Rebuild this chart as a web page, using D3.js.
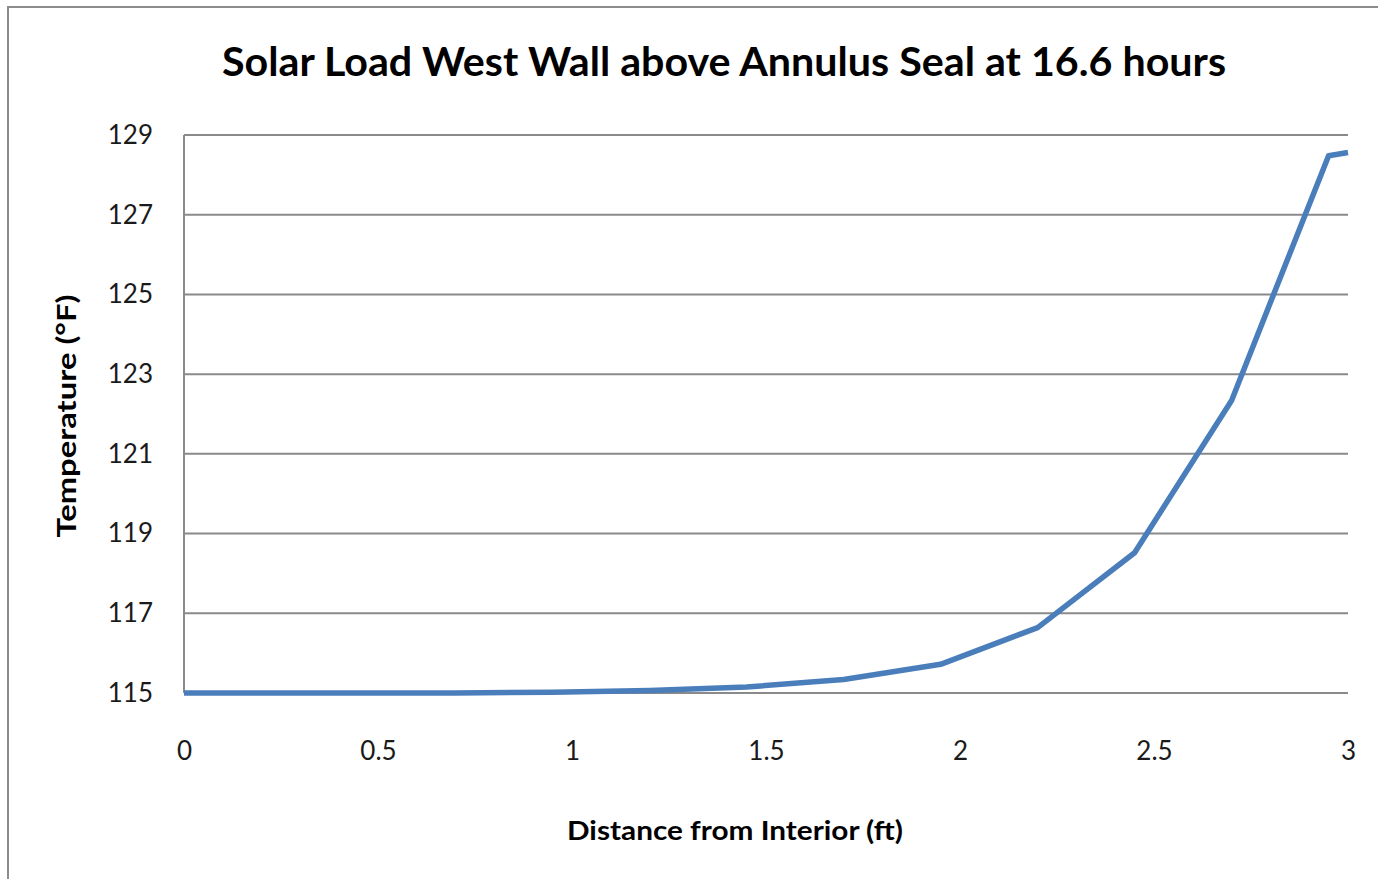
<!DOCTYPE html>
<html><head><meta charset="utf-8">
<script src="https://cdn.jsdelivr.net/npm/d3@7"></script>
<style>body{margin:0;background:#fff;} svg{display:block;}</style>
</head><body>
<svg id="c" width="1378" height="879"></svg>
<script>
const distances = [0, 0.2, 0.45, 0.7, 0.95, 1.2, 1.45, 1.7, 1.95, 2.2, 2.45, 2.7, 2.95, 3.0];
const temperatures = [115, 115, 115, 115, 115.02, 115.06, 115.15, 115.34, 115.72, 116.64, 118.52, 122.34, 128.48, 128.56];
const xTicks = [0, 0.5, 1, 1.5, 2, 2.5, 3];
const yTicks = [115, 117, 119, 121, 123, 125, 127, 129];
const titleText = "Solar Load West Wall above Annulus Seal at 16.6 hours";
const xTitle = "Distance from Interior (ft)";
const yTitle = "Temperature (°F)";

const svg = d3.select("#c");
const font = "Lato, 'Open Sans', sans-serif";
const L = 184, R = 1348, T = 135, B = 693;
const x = d3.scaleLinear().domain([0, 3]).range([L, R]);
const y = d3.scaleLinear().domain([115, 129]).range([B, T]);

// outer border
svg.append("rect").attr("x", 8).attr("y", 7).attr("width", 1400).attr("height", 900)
  .attr("fill", "#fff").attr("stroke", "#8c8c8c").attr("stroke-width", 2);

// gridlines
svg.append("g").selectAll("line").data(yTicks).join("line")
  .attr("x1", L).attr("x2", R).attr("y1", d => y(d)).attr("y2", d => y(d))
  .attr("stroke", "#8a8a8a").attr("stroke-width", 2);

// y axis line
svg.append("line").attr("x1", L).attr("x2", L).attr("y1", T).attr("y2", B)
  .attr("stroke", "#8a8a8a").attr("stroke-width", 2);

// y tick labels
const yAxis = d3.axisLeft(y).tickValues(yTicks).tickSize(0).tickPadding(31).tickFormat(d3.format("d"));
const gy = svg.append("g").attr("transform", `translate(${L},0)`).call(yAxis);
gy.select(".domain").remove();
gy.selectAll("text").attr("font-family", font).attr("font-size", 26).attr("fill", "#1a1a1a");

// x tick labels
const xAxis = d3.axisBottom(x).tickValues(xTicks).tickSize(0).tickPadding(0).tickFormat(d => String(d));
const gx = svg.append("g").attr("transform", `translate(0,${B})`).call(xAxis);
gx.select(".domain").remove();
gx.selectAll("text").attr("dy", null).attr("y", 67).attr("font-family", font).attr("font-size", 26).attr("fill", "#1a1a1a");

// line
const line = d3.line().x((d, i) => x(distances[i])).y(d => y(d));
svg.append("path").datum(temperatures).attr("d", line)
  .attr("fill", "none").attr("stroke", "#4a7ebb").attr("stroke-width", 5.5)
  .attr("stroke-linejoin", "round");

// title
svg.append("text").attr("x", 724).attr("y", 76).attr("text-anchor", "middle")
  .attr("font-family", font).attr("font-weight", "bold").attr("font-size", 40)
  .attr("textLength", 1004).attr("lengthAdjust", "spacingAndGlyphs")
  .attr("fill", "#000").text(titleText);

// x title
svg.append("text").attr("x", 735).attr("y", 840).attr("text-anchor", "middle")
  .attr("font-family", font).attr("font-weight", "bold").attr("font-size", 26)
  .attr("textLength", 336).attr("lengthAdjust", "spacingAndGlyphs")
  .attr("fill", "#000").text(xTitle);

// y title
svg.append("text").attr("transform", "translate(76,416) rotate(-90)").attr("text-anchor", "middle")
  .attr("font-family", font).attr("font-weight", "bold").attr("font-size", 26)
  .attr("textLength", 243).attr("lengthAdjust", "spacingAndGlyphs")
  .attr("fill", "#000").text(yTitle);
</script>
</body></html>
